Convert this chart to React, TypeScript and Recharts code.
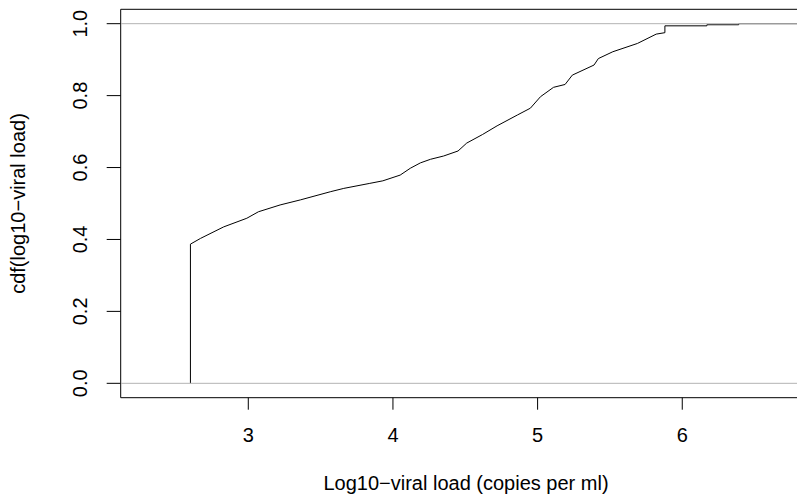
import React from 'react';
import { LineChart, Line, XAxis, YAxis, ReferenceLine, ReferenceArea } from 'recharts';

// ecdf knots (x = log10 viral load, y = cumulative share)
const loadX = [2.6, 2.6, 2.67, 2.83, 2.99, 3.07, 3.22, 3.36, 3.57, 3.66, 3.84, 3.93, 4.05, 4.12, 4.19, 4.26, 4.35, 4.45, 4.51, 4.62, 4.72, 4.86, 4.95, 5.02, 5.11, 5.19, 5.24, 5.39, 5.42, 5.52, 5.69, 5.82, 5.88, 5.88, 6.17, 6.17, 6.39, 6.39, 6.89];
const cdfY = [0, 0.387, 0.403, 0.435, 0.459, 0.477, 0.496, 0.51, 0.533, 0.542, 0.556, 0.563, 0.579, 0.598, 0.613, 0.623, 0.632, 0.646, 0.668, 0.692, 0.716, 0.746, 0.765, 0.797, 0.823, 0.831, 0.857, 0.885, 0.903, 0.922, 0.945, 0.971, 0.975, 0.994, 0.994, 0.997, 0.997, 1.0, 1.0];

const xTicks = [3, 4, 5, 6];
const yTicks = [0, 0.2, 0.4, 0.6, 0.8, 1.0];
const xDomain = [2.118, 6.89];
const yDomain = [-0.04, 1.04];

const data = loadX.map((x, i) => ({ x, y: cdfY[i] }));

const FONT = '"Liberation Sans", Arial, Helvetica, sans-serif';

const XTick = ({ x, payload }: any) => (
  <text x={x} y={442} textAnchor="middle" fontSize={20} fill="#000" fontFamily={FONT}>
    {payload.value}
  </text>
);

const YTick = ({ y, payload }: any) => (
  <text transform={`translate(87,${y}) rotate(-90)`} textAnchor="middle" fontSize={20} fill="#000" fontFamily={FONT}>
    {Number(payload.value).toFixed(1)}
  </text>
);

const XTitle = () => (
  <text x={466} y={490} textAnchor="middle" fontSize={20} fill="#000" fontFamily={FONT}>
    Log10−viral load (copies per ml)
  </text>
);

const YTitle = () => (
  <text transform="translate(25,203.5) rotate(-90)" textAnchor="middle" fontSize={20} fill="#000" fontFamily={FONT}>
    cdf(log10−viral load)
  </text>
);

export default function App() {
  return (
    <div style={{ position: 'absolute', left: 0, top: 0, width: 797, height: 497, overflow: 'hidden', background: '#fff' }}>
      <LineChart width={830} height={497} data={data} margin={{ top: 9.3, right: 19, bottom: 0, left: 0 }}>
        <XAxis
          type="number"
          dataKey="x"
          domain={xDomain}
          ticks={xTicks}
          allowDataOverflow
          axisLine={false}
          tickLine={{ stroke: '#000' }}
          tickSize={12}
          tick={<XTick />}
          height={99.3}
          label={<XTitle />}
        />
        <YAxis
          type="number"
          domain={yDomain}
          ticks={yTicks}
          allowDataOverflow
          axisLine={false}
          tickLine={{ stroke: '#000' }}
          tickSize={14}
          tick={<YTick />}
          width={120.7}
          label={<YTitle />}
        />
        <Line type="linear" dataKey="y" stroke="#000" strokeWidth={1} dot={false} activeDot={false} isAnimationActive={false} />
        <ReferenceLine y={0} stroke="#b3b3b3" strokeWidth={1} />
        <ReferenceLine y={1} stroke="#b3b3b3" strokeWidth={1} />
        <ReferenceArea x1={xDomain[0]} x2={xDomain[1]} y1={yDomain[0]} y2={yDomain[1]} fill="none" stroke="#000" strokeWidth={1} ifOverflow="visible" />
      </LineChart>
    </div>
  );
}
